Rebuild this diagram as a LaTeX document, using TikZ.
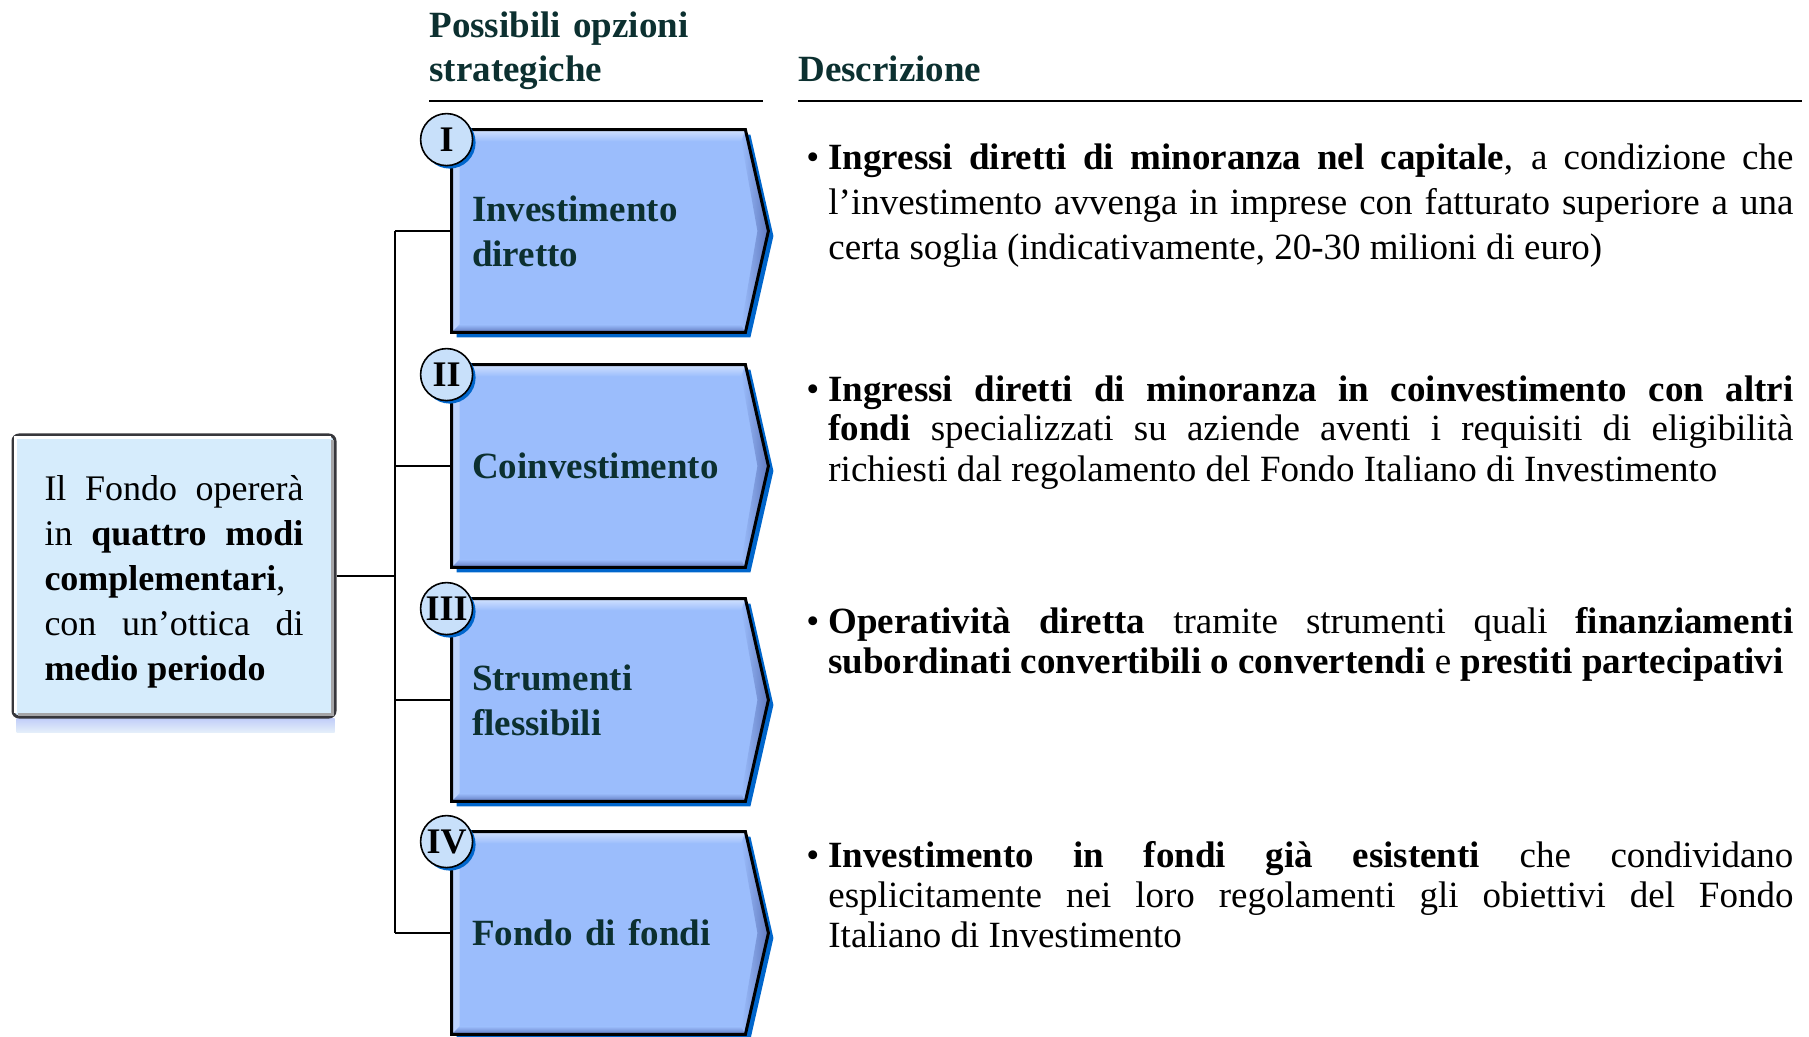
\documentclass[tikz,border=0pt]{standalone}
\usepackage{fontspec}
\setmainfont{Liberation Serif}
\usetikzlibrary{positioning,backgrounds,shadows}
\definecolor{optTeal}{RGB}{12,48,48}
\definecolor{chevFill}{RGB}{155,189,252}
\definecolor{chevLight}{RGB}{210,226,255}
\definecolor{chevDark}{RGB}{95,120,190}
\definecolor{chevShadow}{RGB}{0,102,204}
\definecolor{numFill}{RGB}{200,224,250}
\definecolor{fondoFill}{RGB}{214,236,252}
\definecolor{fondoEdge}{RGB}{55,55,60}
\definecolor{fondoShadow}{RGB}{190,216,242}

\begin{document}
\begin{tikzpicture}[x=0.5pt, y=-0.5pt,
    hdr/.style={anchor=base west, inner sep=0pt, align=left, text width=#1,
      font=\fontsize{18.5}{22}\selectfont\bfseries, text=optTeal},
    rule/.style={line width=1pt, color=black},
    fondobox/.style={draw=fondoEdge, line width=1.5pt, rounded corners=3pt, fill=fondoFill,
      minimum width=161pt, minimum height=141pt, text width=129.5pt, align=justify,
      font=\fontsize{18}{22.5}\selectfont},
    chevbox/.style={minimum width=146.5pt, minimum height=101pt, inner xsep=10pt,
      text width=126.5pt, align=left, font=\fontsize{18.5}{22.5}\selectfont\bfseries, text=optTeal},
    numcirc/.style={circle, draw=black, line width=0.8pt, fill=numFill, minimum size=26pt,
      inner sep=0pt, font=\fontsize{18}{18}\selectfont\bfseries,
      drop shadow={fill=chevShadow, opacity=1, shadow xshift=1.5pt, shadow yshift=-1.5pt}},
    dot/.style={anchor=base west, inner sep=0pt, font=\fontsize{18.5}{20}\selectfont},
    descr/.style={anchor=base west, inner sep=0pt, text width=482.5pt, align=justify,
      font=\fontsize{18.5}{#1}\selectfont},
    descr/.default=20,
    link/.style={line width=1pt, color=black}
  ]
  \useasboundingbox (0,0) rectangle (1809,1037);

  % headers
  \node[hdr=170pt] (hdrOpt) at (429,38) {Possibili opzioni\\strategiche};
  \node[hdr=200pt] (hdrDescr) at (798,82) {Descrizione};
  \draw[rule] (429,101) -- (763,101);
  \draw[rule] (798,101) -- (1802,101);

  % left box
  \node[fondobox] (fondo) at (174,576) {\rule{0pt}{18pt}Il Fondo opererà\linebreak in \textbf{quattro modi}\linebreak
    \textbf{complementari},\linebreak con un'ottica di\linebreak \textbf{medio periodo}};
  \draw[white, line width=1.2pt] ([shift={(2pt,3pt)}]fondo.south west) -- ([shift={(2pt,-2pt)}]fondo.north west)
    -- ([shift={(-3pt,-2pt)}]fondo.north east);
  \draw[fondoEdge!45, line width=1.5pt] ([shift={(3pt,2pt)}]fondo.south west) -- ([shift={(-2pt,2pt)}]fondo.south east)
    -- ([shift={(-2pt,-3pt)}]fondo.north east);

  % options
  \node[chevbox] (opt1) at (598.5,231) {Investimento\\diretto};
  \node[chevbox] (opt2) at (598.5,466) {Coinvestimento};
  \node[chevbox] (opt3) at (598.5,700) {Strumenti\\flessibili};
  \node[chevbox] (opt4) at (598.5,933) {Fondo di fondi};

  \begin{scope}[on background layer]
    \shade[top color=fondoShadow!80!blue!60!white, bottom color=fondoShadow!40] ([xshift=2.5pt]fondo.south west)
      rectangle ([shift={(-1pt,-7pt)}]fondo.south east);
    \foreach \i in {1,...,4}{
      \fill[chevShadow] ([shift={(2.5pt,-2.5pt)}]opt\i.north west) -- ([shift={(2.5pt,-2.5pt)}]opt\i.north east)
        -- ([shift={(14pt,-2.5pt)}]opt\i.east) -- ([shift={(2.5pt,-2.5pt)}]opt\i.south east)
        -- ([shift={(2.5pt,-2.5pt)}]opt\i.south west) -- cycle;
      \fill[chevFill] (opt\i.north west) -- (opt\i.north east) -- ([xshift=11.5pt]opt\i.east)
        -- (opt\i.south east) -- (opt\i.south west) -- cycle;
      \shade[top color=chevLight, bottom color=chevFill] (opt\i.north west) -- (opt\i.north east)
        -- ([shift={(-2pt,-6pt)}]opt\i.north east) -- ([shift={(4pt,-6pt)}]opt\i.north west) -- cycle;
      \fill[chevLight!60!chevFill] (opt\i.north west) -- ([shift={(4pt,-6pt)}]opt\i.north west)
        -- ([shift={(4pt,4pt)}]opt\i.south west) -- (opt\i.south west) -- cycle;
      \shade[top color=chevFill, bottom color=chevDark] ([shift={(4pt,4pt)}]opt\i.south west)
        -- ([shift={(-2pt,4pt)}]opt\i.south east) -- (opt\i.south east) -- (opt\i.south west) -- cycle;
      \shade[left color=chevFill, right color=chevDark] ([shift={(-2pt,-6pt)}]opt\i.north east)
        -- (opt\i.north east) -- ([xshift=11.5pt]opt\i.east) -- (opt\i.south east)
        -- ([shift={(-2pt,4pt)}]opt\i.south east) -- ([xshift=6pt]opt\i.east) -- cycle;
      \draw[line width=1.5pt] (opt\i.north west) -- (opt\i.north east) -- ([xshift=11.5pt]opt\i.east)
        -- (opt\i.south east) -- (opt\i.south west) -- cycle;
    }
  \end{scope}

  % connectors
  \coordinate (spine) at (395,576);
  \draw[link] (fondo.east) -- (spine);
  \draw[link] (spine |- opt1.west) -- (spine |- opt4.west);
  \foreach \i in {1,...,4}
    \draw[link] (spine |- opt\i.west) -- (opt\i.west);

  % numerals
  \foreach \i/\n in {1/I,2/II,3/III,4/IV}
    \node[numcirc] (num\i) at ([shift={(-2.5pt,-5pt)}]opt\i.north west) {\n};

  % descriptions
  \foreach \i/\y in {1/170,2/401,3/633,4/867}
    \node[dot] (dot\i) at (806,\y) {\textbullet};
  \node[descr=22.5] (descr1) at (828,170) {\textbf{Ingressi diretti di minoranza nel capitale}, a condizione che\linebreak
    l'investimento avvenga in imprese con fatturato superiore a una\linebreak
    certa soglia (indicativamente, 20-30 milioni di euro)};
  \node[descr] (descr2) at (828,401) {\textbf{Ingressi diretti di minoranza in coinvestimento con altri}\linebreak
    \textbf{fondi} specializzati su aziende aventi i requisiti di eligibilità\linebreak
    richiesti dal regolamento del Fondo Italiano di Investimento};
  \node[descr] (descr3) at (828,633) {\textbf{Operatività diretta} tramite strumenti quali \textbf{finanziamenti}\linebreak
    \textbf{subordinati convertibili o convertendi} e \textbf{prestiti partecipativi}};
  \node[descr] (descr4) at (828,867) {\textbf{Investimento in fondi già esistenti} che condividano\linebreak
    esplicitamente nei loro regolamenti gli obiettivi del Fondo\linebreak
    Italiano di Investimento};
\end{tikzpicture}
\end{document}
